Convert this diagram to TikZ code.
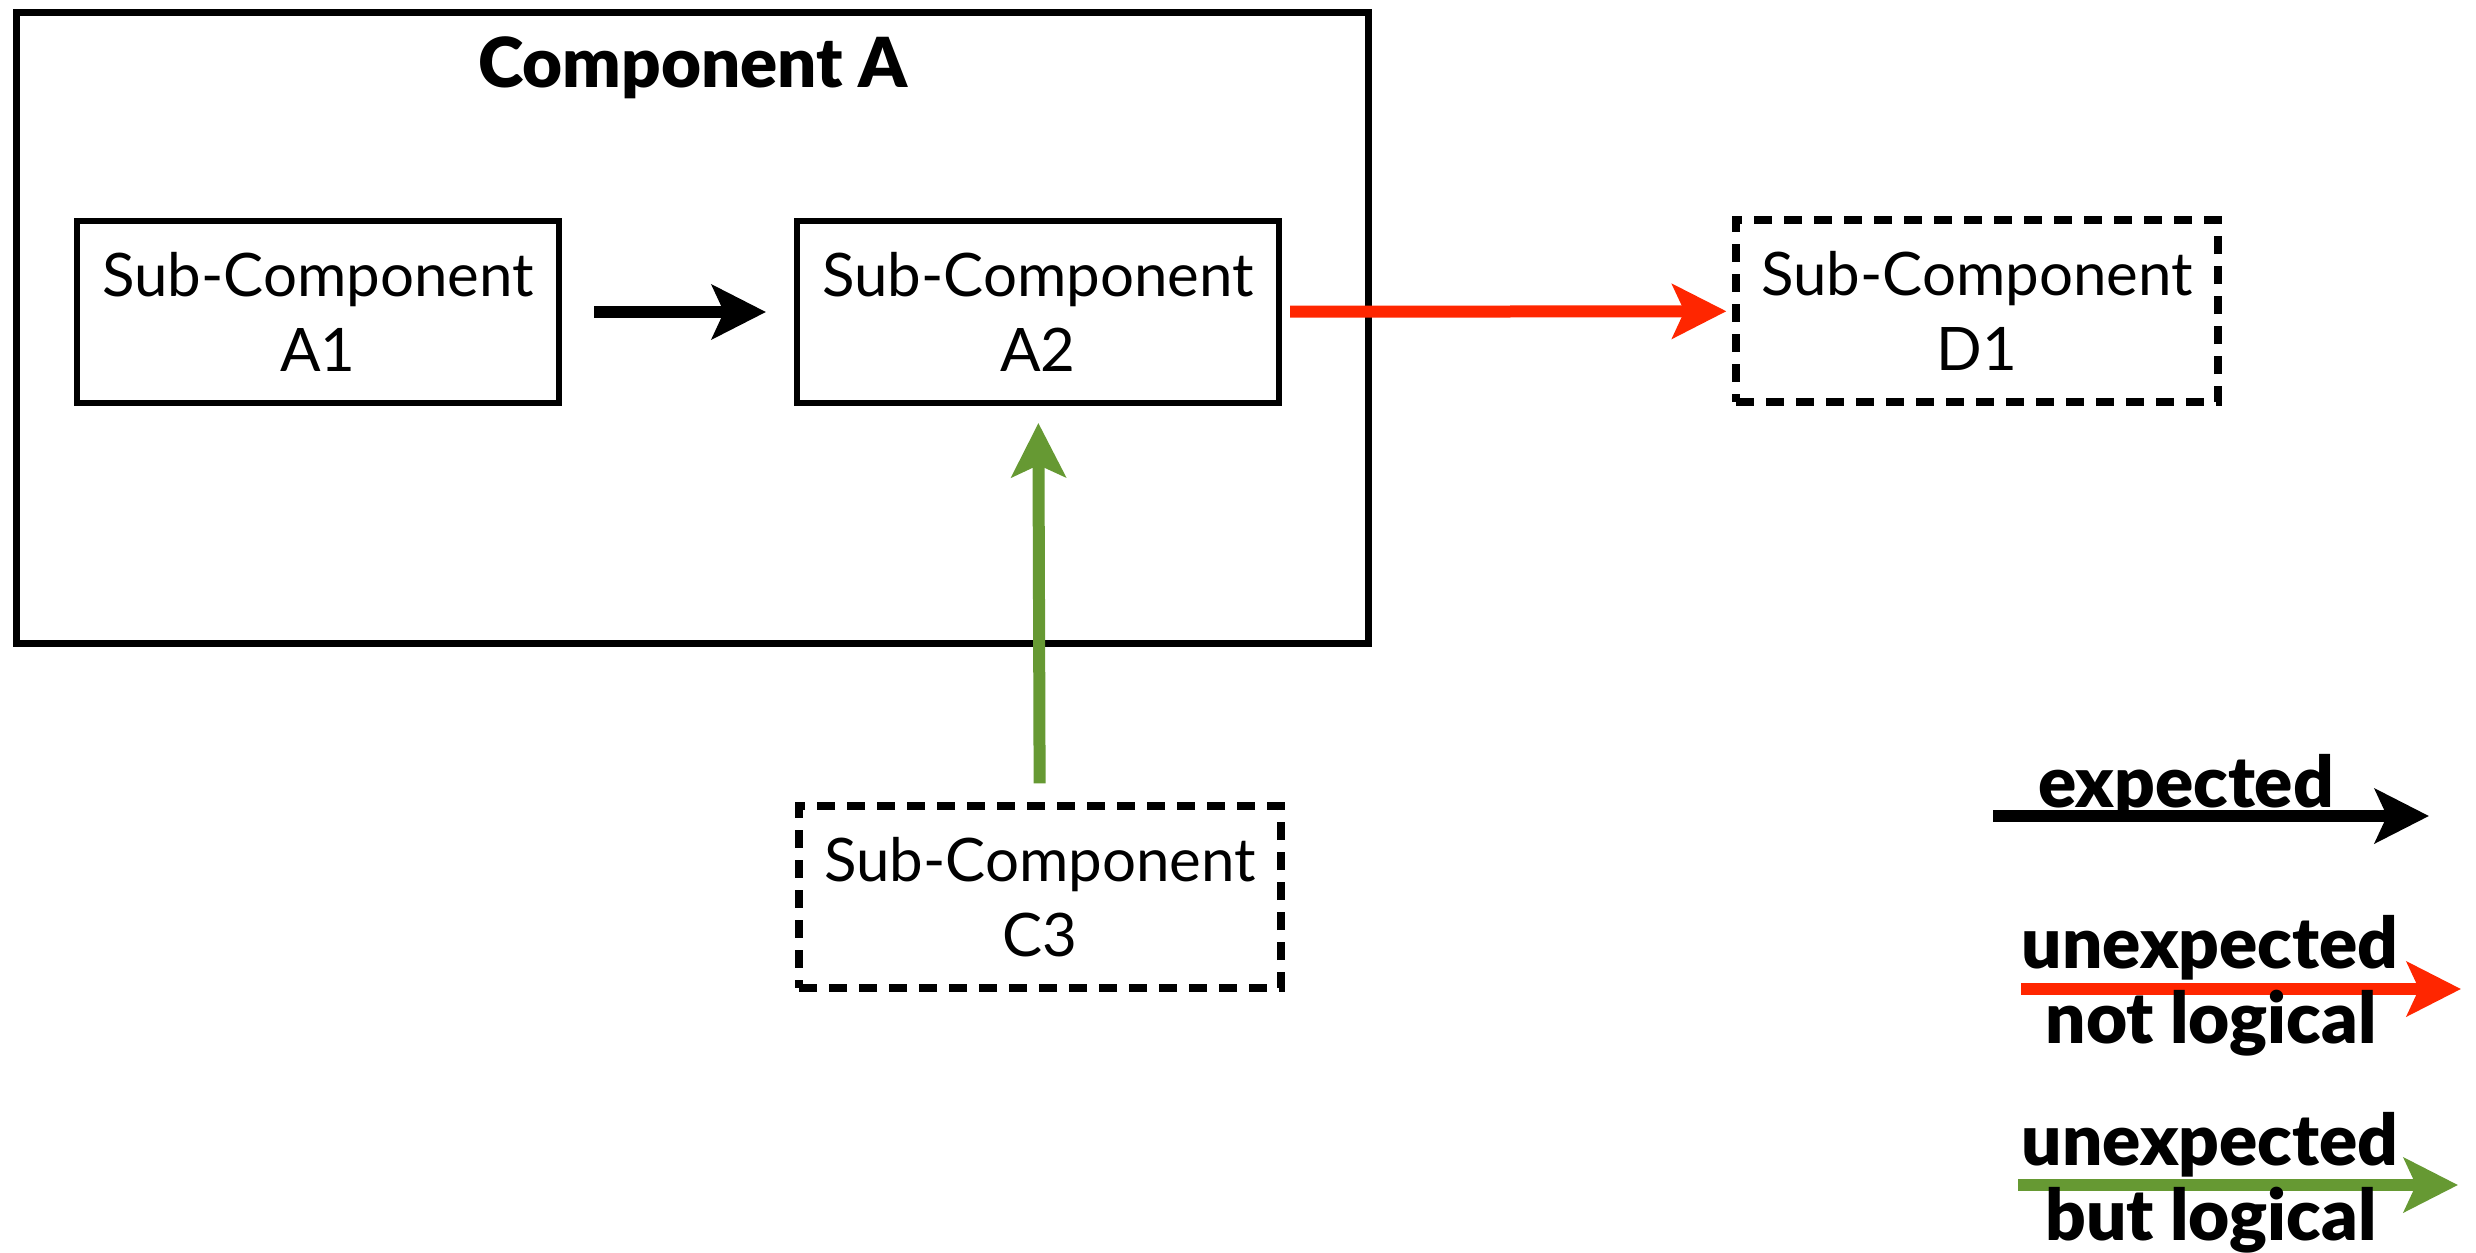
\documentclass[tikz,border=0pt]{standalone}
\usepackage{fontspec}
\setmainfont{Lato}
\newfontfamily\heavyfont{Lato Black}
\usetikzlibrary{arrows.meta}
\definecolor{flowred}{RGB}{255,38,0}
\definecolor{flowgreen}{RGB}{102,153,51}
\tikzset{
  subbox/.style={draw, line width=3pt, minimum width=241pt, minimum height=91pt,
    align=center, font=\fontsize{30}{37.5}\selectfont, inner sep=0pt},
  extbox/.style={subbox, line width=3.6pt, dash pattern=on 9pt off 6pt},
  flow/.style={line width=6pt, -{Stealth[length=27pt,width=27pt,inset=6pt]}},
  legendtext/.style={anchor=base, font=\fontsize{35.5}{35.5}\selectfont\heavyfont, inner sep=0pt},
}
\begin{document}
\begin{tikzpicture}[x=0.5pt,y=-0.5pt]
  \useasboundingbox (0,0) rectangle (2476,1252);

  % outer component
  \node[draw, line width=3.5pt, minimum width=676pt, minimum height=315pt, inner sep=0pt]
    (compA) at (692.5,328) {};
  \node[anchor=base, font=\fontsize{34.5}{34.5}\selectfont\heavyfont, inner sep=0pt]
    (compAtitle) at (693,88) {Component A};

  % sub-components
  \node[subbox] (a1) at (318,312) {Sub-Component\\A1};
  \node[subbox] (a2) at (1038,312) {Sub-Component\\A2};
  \node[extbox] (d1) at (1977,311) {Sub-Component\\D1};
  \node[extbox] (c3) at (1040,897) {Sub-Component\\C3};

  % dependencies
  \draw[flow, shorten <=16pt, shorten >=14pt] (a1) -- (a2);
  \draw[flow, flowred, shorten <=4pt, shorten >=3pt] (a2) -- (d1);
  \draw[flow, flowgreen, shorten <=9.5pt, shorten >=8.5pt] (c3) -- (a2);

  % legend
  \coordinate (lk1) at (1993,816);  \coordinate (lk2) at (2429,816);
  \coordinate (lr1) at (2021,989);  \coordinate (lr2) at (2461,989);
  \coordinate (lg1) at (2018,1185); \coordinate (lg2) at (2458,1185);
  \draw[flow] (lk1) -- (lk2);
  \draw[flow, flowred] (lr1) -- (lr2);
  \draw[flow, flowgreen] (lg1) -- (lg2);
  \node[legendtext] (lexp) at (2186,807) {expected};
  \node[legendtext] (lun1) at (2210,968) {unexpected};
  \node[legendtext] (lnot) at (2211,1043) {not logical};
  \node[legendtext] (lun2) at (2210,1165) {unexpected};
  \node[legendtext] (lbut) at (2211,1240) {but logical};
\end{tikzpicture}
\end{document}
